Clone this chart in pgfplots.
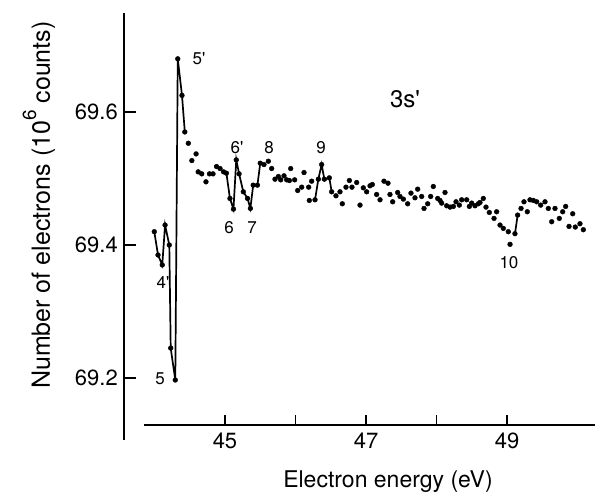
\documentclass[border=0pt]{standalone}
\usepackage{fontspec}
\setmainfont{TeX Gyre Heros}
\usepackage{pgfplots}
\pgfplotsset{compat=1.18}

\newcommand{\pr}{\textquotesingle}
\newcommand{\ptfont}{\fontsize{17}{19}\selectfont}

\begin{document}
\begin{tikzpicture}[x=1pt,y=1pt]
\useasboundingbox (0,0) rectangle (595,497);

% y axis, data and peak labels
\begin{axis}[
  at={(124pt,57pt)}, anchor=south west,
  scale only axis, width=471pt, height=427pt,
  xmin=43.5674, xmax=50.2482,
  ymin=69.1068, ymax=69.7489,
  axis x line=none, axis y line=left,
  axis line style={-, line width=1.8pt},
  ytick={69.2,69.4,69.6},
  yticklabels={69.2,69.4,69.6},
  tick align=inside, major tick length=12pt,
  tick style={black, line width=1.5pt},
  yticklabel style={font=\fontsize{22}{24}\selectfont, anchor=east, inner sep=0pt, xshift=-6pt},
  ylabel={Number of electrons (10\raisebox{0.55em}{\fontsize{19}{20}\selectfont 6} counts)},
  ylabel style={font=\fontsize{25}{28}\selectfont, at={(axis description cs:-0.1805,0.55)}, anchor=center},
  clip=false,
]
% steep parts joined by lines
\addplot[black, line width=1.7pt] coordinates {
  (43.997,69.420)(44.05,69.385)(44.11,69.370)(44.15,69.430)(44.21,69.400)
  (44.23,69.245)(44.295,69.197)(44.33,69.680)(44.39,69.625)(44.43,69.570)};
\addplot[black, line width=1.7pt] coordinates {
  (44.98,69.510)(45.02,69.508)(45.07,69.470)(45.12,69.454)(45.16,69.528)
  (45.20,69.507)(45.26,69.480)(45.32,69.470)(45.36,69.455)(45.40,69.490)
  (45.46,69.490)(45.50,69.523)};
\addplot[black, line width=1.7pt] coordinates {
  (46.277,69.468)(46.324,69.499)(46.371,69.521)(46.409,69.499)(46.480,69.501)(46.513,69.480)};
\addplot[black, line width=1.7pt] coordinates {(49.113,69.417)(49.151,69.445)};
% measured points
\addplot[only marks, mark=*, mark size=2.4pt, black] coordinates {
  (43.997,69.420)(44.05,69.385)(44.11,69.370)(44.15,69.430)(44.21,69.400)
  (44.23,69.245)(44.295,69.197)(44.33,69.680)(44.39,69.625)(44.43,69.570)
  (44.48,69.553)(44.53,69.527)(44.59,69.537)(44.62,69.510)(44.67,69.507)
  (44.73,69.495)(44.78,69.507)(44.83,69.507)(44.88,69.518)(44.93,69.515)
  (44.98,69.510)(45.02,69.508)(45.07,69.470)(45.12,69.454)(45.16,69.528)
  (45.20,69.507)(45.26,69.480)(45.32,69.470)(45.36,69.455)(45.40,69.490)
  (45.46,69.490)(45.50,69.523)(45.553,69.521)(45.615,69.526)(45.662,69.515)
  (45.709,69.499)(45.757,69.503)(45.790,69.498)(45.837,69.504)(45.875,69.498)
  (45.913,69.497)(45.932,69.515)(45.988,69.498)(46.031,69.482)(46.088,69.487)
  (46.121,69.509)(46.187,69.487)(46.196,69.467)(46.229,69.496)(46.277,69.468)
  (46.324,69.499)(46.371,69.521)(46.409,69.499)(46.480,69.501)(46.513,69.480)
  (46.574,69.474)(46.631,69.480)(46.664,69.462)(46.716,69.487)(46.764,69.497)
  (46.801,69.487)(46.868,69.494)(46.915,69.460)(46.962,69.486)(47.009,69.480)
  (47.057,69.489)(47.090,69.491)(47.151,69.476)(47.199,69.468)(47.255,69.496)
  (47.312,69.493)(47.340,69.476)(47.378,69.465)(47.449,69.479)(47.482,69.473)
  (47.530,69.469)(47.591,69.462)(47.638,69.478)(47.695,69.471)(47.733,69.484)
  (47.790,69.473)(47.823,69.455)(47.875,69.462)(47.917,69.473)(47.955,69.488)
  (48.017,69.470)(48.050,69.467)(48.073,69.463)(48.121,69.479)(48.144,69.459)
  (48.192,69.457)(48.239,69.458)(48.277,69.465)(48.324,69.460)(48.357,69.468)
  (48.428,69.468)(48.466,69.458)(48.499,69.463)(48.546,69.459)(48.593,69.462)
  (48.617,69.464)(48.664,69.470)(48.702,69.457)(48.749,69.449)(48.816,69.440)
  (48.853,69.450)(48.901,69.430)(48.948,69.425)(49.019,69.420)(49.043,69.401)
  (49.113,69.417)(49.151,69.445)(49.199,69.455)(49.241,69.465)(49.288,69.450)
  (49.326,69.468)(49.374,69.467)(49.421,69.465)(49.478,69.460)(49.539,69.465)
  (49.586,69.455)(49.634,69.435)(49.681,69.455)(49.742,69.440)(49.790,69.450)
  (49.832,69.458)(49.880,69.428)(49.932,69.447)(49.969,69.427)(50.035,69.432)
  (50.083,69.423)};
% feature labels
\node[font=\ptfont] at (axis cs:44.631,69.681) {5\pr};
\node[font=\ptfont] at (axis cs:45.170,69.546) {6\pr};
\node[font=\ptfont] at (axis cs:45.624,69.546) {8};
\node[font=\ptfont] at (axis cs:45.057,69.426) {6};
\node[font=\ptfont] at (axis cs:45.383,69.426) {7};
\node[font=\ptfont] at (axis cs:44.121,69.343) {4\pr};
\node[font=\ptfont] at (axis cs:44.078,69.199) {5};
\node[font=\ptfont] at (axis cs:46.362,69.546) {9};
\node[font=\ptfont] at (axis cs:49.028,69.373) {10};
\node[font=\fontsize{24}{26}\selectfont] at (axis cs:47.553,69.620) {3s\pr};
\end{axis}

% detached x axis
\begin{axis}[
  at={(144pt,72pt)}, anchor=south west,
  scale only axis, width=451pt, height=20pt,
  xmin=43.8511, xmax=50.2482, ymin=0, ymax=1,
  axis x line=bottom, axis y line=none,
  axis line style={-, line width=1.6pt},
  xtick={45,46,47,48,49},
  xticklabels={45,,47,,49},
  tick align=inside, major tick length=10pt,
  tick style={black, line width=1.5pt},
  xticklabel style={font=\fontsize{22}{24}\selectfont, anchor=north, inner sep=0pt, yshift=-8pt},
  xlabel={Electron energy (eV)},
  xlabel style={font=\fontsize{23}{26}\selectfont, at={(axis description cs:0.541,-3.15)}, anchor=base},
]
\end{axis}
\end{tikzpicture}
\end{document}
